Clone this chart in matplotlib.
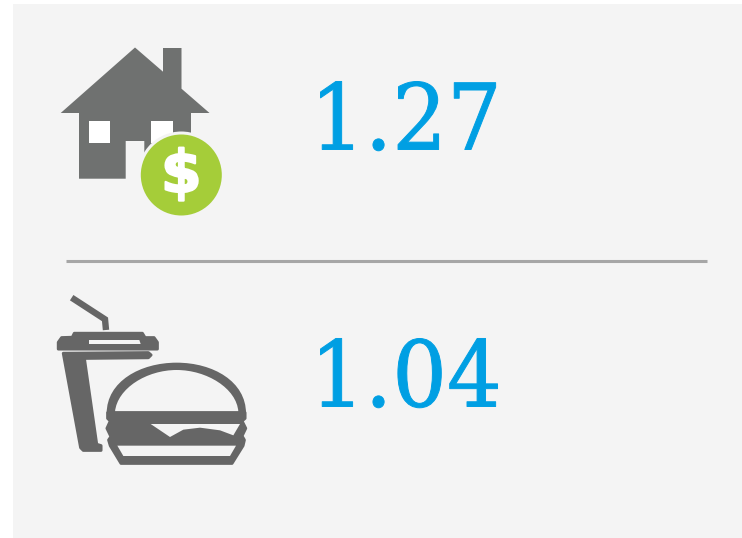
import numpy as np
import matplotlib
matplotlib.use('Agg')
import matplotlib.pyplot as plt
import matplotlib.patheffects as pe
from matplotlib.path import Path
from matplotlib.patches import PathPatch, Polygon, Circle, Rectangle
from matplotlib.transforms import Affine2D

# Values shown next to the icons
values = ['1.27', '1.04']
value_x = [310, 310]
value_base = [149.5, 406.5]

BLUE = '#009fe3'
PANEL = '#f4f4f4'
HOUSE = '#6f7170'
BURGER = '#666666'
GREEN = '#a5cd39'

# House outline, pixels
house_x = [135, 163, 163, 181.5, 181.5, 209.5, 191, 191, 144.3, 144.3, 125.7, 125.7, 79, 79, 60.7]
house_y = [47.5, 71.7, 48, 48, 88.7, 113, 113, 190, 190, 141, 141, 178.7, 178.7, 113, 113]

# Food icon points are in crop pixels (3x, origin 40,285)
def food(pts):
    return [(40 + x / 3, 285 + y / 3) for x, y in pts]

lid = [(97, 157), (103, 145), (307, 145), (315, 158), (342, 158), (352, 172), (352, 192),
       (55, 192), (55, 172), (65, 158)]
slot = [(147, 165), (298, 165), (302, 177), (147, 177)]
cup = [(70, 205), (325, 203), (333, 210), (325, 218), (133, 220), (170, 478), (183, 482),
       (183, 496), (130, 496), (122, 488)]
straw = [(95, 38), (195, 103), (198, 135)]
burger = [(203, 383), (615, 383), (615, 400), (606, 408), (617, 430), (606, 453), (613, 465),
          (609, 482), (576, 535), (243, 535), (211, 482), (206, 465), (213, 455), (201, 430),
          (211, 408), (203, 400)]
bottom_in = [(232, 482), (588, 482), (570, 513), (250, 513)]
cheese = [(332, 417), (600, 417), (580, 451), (540, 436), (480, 428), (430, 434), (390, 456)]


class StretchX(pe.AbstractPathEffect):
    # scales the glyphs about the text start and thickens them a little
    def __init__(self, factor, x0, weight):
        super().__init__()
        self.factor = factor
        self.x0 = x0
        self.weight = weight

    def draw_path(self, renderer, gc, tpath, affine, rgbFace=None):
        t = affine + Affine2D().translate(-self.x0, 0).scale(self.factor, 1).translate(self.x0, 0)
        gc0 = renderer.new_gc()
        gc0.copy_properties(gc)
        gc0.set_linewidth(self.weight)
        gc0.set_foreground(rgbFace)
        renderer.draw_path(gc0, tpath, t, rgbFace)
        gc0.restore()


fig = plt.figure(figsize=(7.42, 5.38), dpi=100)
ax = fig.add_axes([0, 0, 1, 1])
ax.set_xlim(0, 742)
ax.set_ylim(538, 0)
ax.axis('off')

# Panel and divider
ax.add_patch(Rectangle((13, 4), 729, 534, fc=PANEL, ec='none'))
ax.plot([66, 707], [261, 261], color='#a6a6a6', lw=2.2, solid_capstyle='butt')

# House
ax.add_patch(Polygon(list(zip(house_x, house_y)), fc=HOUSE, ec='none'))
ax.add_patch(Rectangle((89.3, 121.3), 21, 21.4, fc='white', ec='none'))
ax.add_patch(Rectangle((151.3, 121.3), 21.4, 21.4, fc='white', ec='none'))
ax.add_patch(Circle((181.3, 175), 43.5, fc=PANEL, ec='none'))
ax.add_patch(Circle((181.3, 175), 40.5, fc=GREEN, ec='none'))
ax.text(181.3, 175.5, '$', color='white', fontsize=42, fontweight='bold', family='DejaVu Sans',
        ha='center', va='center',
        path_effects=[pe.withStroke(linewidth=1.6, foreground='white')])

# Cup
rounded = dict(fc=BURGER, ec=BURGER, lw=2.2, joinstyle='round')
ax.add_patch(Polygon(food(lid), **rounded))
ax.add_patch(Polygon(food(slot), fc=PANEL, ec='none'))
ax.add_patch(Polygon(food(cup), **rounded))
sx, sy = zip(*food(straw))
ax.plot(sx, sy, color=BURGER, lw=4.6, solid_joinstyle='miter', solid_capstyle='butt')

# Burger top bun
dome = [(200, 385), (200, 290), (300, 233), (410, 233), (520, 233), (618, 290), (618, 385)]
dome_in = [(225, 380), (232, 310), (320, 255), (410, 255), (500, 255), (590, 310), (595, 380)]
codes = [Path.MOVETO] + [Path.CURVE4] * 6
ax.add_patch(PathPatch(Path(food(dome), codes), fc=BURGER, ec='none'))
ax.add_patch(PathPatch(Path(food(dome_in), codes), fc=PANEL, ec='none'))

# Patty, bottom bun, then the cheese and bun openings cut back out
ax.add_patch(Polygon(food(burger), **rounded))
ax.add_patch(Polygon(food(cheese), fc=PANEL, ec='none'))
ax.add_patch(Polygon(food(bottom_in), fc=PANEL, ec='none'))

# Numbers
for v, x, y in zip(values, value_x, value_base):
    disp_x = ax.transData.transform((x, y))[0]
    ax.text(x, y, v, color=BLUE, fontsize=66, family='DejaVu Serif', ha='left', va='baseline',
            path_effects=[StretchX(0.94, disp_x, 0.7)])

fig.savefig('out.png', dpi=100, facecolor='white')
